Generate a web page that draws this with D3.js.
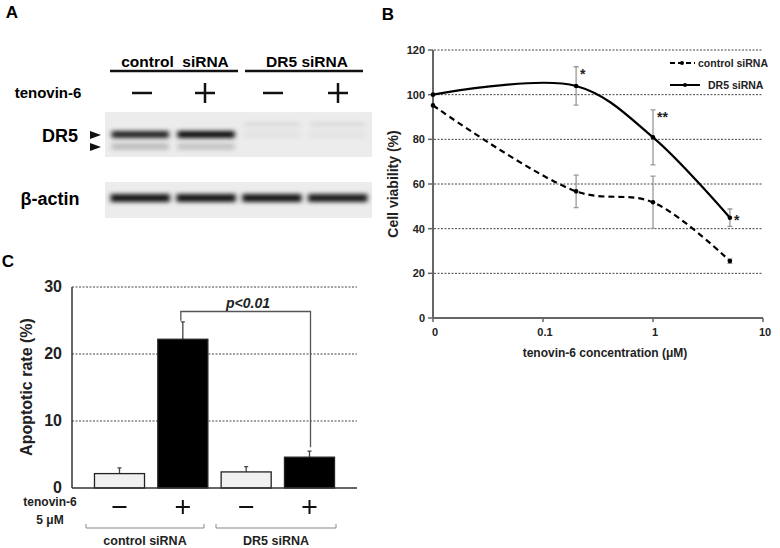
<!DOCTYPE html>
<html>
<head>
<meta charset="utf-8">
<script src="https://cdn.jsdelivr.net/npm/d3@7"></script>
<style>
  body { margin: 0; background: #fff; }
  svg { font-family: "Liberation Sans", Arial, sans-serif; font-weight: bold; }
</style>
</head>
<body>
<div id="fig"></div>
<script>
// ---- panel A (blot) ----
const laneGroups = ["control  siRNA", "DR5 siRNA"];
const laneTreat = ["−", "+", "−", "+"];
const dr5Upper = [0.85, 0.95, 0.04, 0.035];   // band darkness
const dr5Lower = [0.35, 0.3, 0.0, 0.0];
const dr5Faint = [0.0, 0.0, 0.07, 0.07];
const actin = [0.9, 0.9, 0.9, 0.88];

// ---- panel B (viability) ----
const conc = [0, 0.2, 1, 5];
const concTicks = [0.01, 0.1, 1, 10];
const concTickLabels = ["0", "0.1", "1", "10"];
const ctrlVia = [95.2, 56.7, 51.8, 25.5];
const ctrlErr = [0, 7.3, 11.7, 1];
const dr5Via = [100, 103.9, 80.9, 44.9];
const dr5Err = [0, 8.6, 12.3, 3.9];
const dr5Stars = ["", "*", "**", "*"];
const viaTicks = [0, 20, 40, 60, 80, 100, 120];

// ---- panel C (apoptosis) ----
const groupsC = ["ctl-", "ctl+", "dr5-", "dr5+"];
const apopRate = [2.15, 22.2, 2.4, 4.6];
const apopErr = [0.85, 2.6, 0.8, 0.9];
const apopTicks = [0, 10, 20, 30];

const svg = d3.select("#fig").append("svg")
  .attr("width", 780).attr("height", 548);

// panel letters
[["A", 12, 18], ["B", 388, 20], ["C", 8, 267]].forEach(d => {
  svg.append("text").attr("x", d[1]).attr("y", d[2]).attr("text-anchor", "middle")
    .attr("font-size", 17).text(d[0]);
});

// ================= A =================
const laneX = d3.scaleBand().domain(d3.range(4)).range([106, 372]).padding(0.04);

const defs = svg.append("defs");
defs.append("filter").attr("id", "blur").attr("x", "-20%").attr("y", "-150%")
  .attr("width", "140%").attr("height", "400%")
  .append("feGaussianBlur").attr("stdDeviation", "2.5 2");

const gA = svg.append("g");
// group headers
gA.append("text").attr("x", 175).attr("y", 67).attr("text-anchor", "middle")
  .attr("font-size", 15.5).attr("xml:space", "preserve").text(laneGroups[0]);
gA.append("line").attr("x1", 110).attr("x2", 238).attr("y1", 71).attr("y2", 71)
  .attr("stroke", "#111").attr("stroke-width", 2.5);
gA.append("text").attr("x", 307).attr("y", 67).attr("text-anchor", "middle")
  .attr("font-size", 15.5).text(laneGroups[1]);
gA.append("line").attr("x1", 245).attr("x2", 363).attr("y1", 71).attr("y2", 71)
  .attr("stroke", "#111").attr("stroke-width", 2.5);
gA.append("text").attr("x", 48).attr("y", 98).attr("text-anchor", "middle")
  .attr("font-size", 15).text("tenovin-6");
const signX = [142, 205, 273, 338];
laneTreat.forEach((s, i) => {
  gA.append("line").attr("x1", signX[i] - 10).attr("x2", signX[i] + 10)
    .attr("y1", 93).attr("y2", 93).attr("stroke", "#111").attr("stroke-width", 2.5);
  if (s === "+") gA.append("line").attr("x1", signX[i]).attr("x2", signX[i])
    .attr("y1", 83).attr("y2", 103).attr("stroke", "#111").attr("stroke-width", 2.5);
});

// DR5 blot
gA.append("rect").attr("x", 105).attr("y", 112).attr("width", 267).attr("height", 45)
  .attr("fill", "#ececec");
const bandG = gA.append("g").attr("filter", "url(#blur)");
dr5Upper.forEach((v, i) => {
  bandG.append("rect").attr("x", laneX(i) + 3).attr("y", 131).attr("width", laneX.bandwidth() - 6)
    .attr("height", 7).attr("fill", "#000").attr("opacity", v);
});
dr5Lower.forEach((v, i) => {
  bandG.append("rect").attr("x", laneX(i) + 3).attr("y", 143).attr("width", laneX.bandwidth() - 6)
    .attr("height", 7).attr("fill", "#000").attr("opacity", v * 0.55);
});
dr5Faint.forEach((v, i) => {
  bandG.append("rect").attr("x", laneX(i) + 4).attr("y", 122).attr("width", laneX.bandwidth() - 8)
    .attr("height", 5).attr("fill", "#000").attr("opacity", v);
});
gA.append("text").attr("x", 60).attr("y", 142).attr("text-anchor", "middle")
  .attr("font-size", 18).text("DR5");
[135, 147].forEach(y => {
  gA.append("path").attr("d", `M90,${y - 4}L101,${y}L90,${y + 4}Z`).attr("fill", "#111");
});

// actin blot
gA.append("rect").attr("x", 105).attr("y", 182).attr("width", 267).attr("height", 36)
  .attr("fill", "#ececec");
const actG = gA.append("g").attr("filter", "url(#blur)");
actin.forEach((v, i) => {
  actG.append("rect").attr("x", laneX(i) + 2).attr("y", 194).attr("width", laneX.bandwidth() - 4)
    .attr("height", 8).attr("fill", "#000").attr("opacity", v);
});
gA.append("text").attr("x", 50).attr("y", 205).attr("text-anchor", "middle")
  .attr("font-size", 18).text("β-actin");

// ================= B =================
const xB = d3.scaleLog().domain([0.01, 10]).range([433, 763]);
const yB = d3.scaleLinear().domain([0, 120]).range([318, 50]);
const px = c => xB(Math.max(c, 0.01));
const gB = svg.append("g");

gB.selectAll(".gridB").data(viaTicks.filter(t => t > 0)).enter().append("line")
  .attr("x1", 434).attr("x2", 763).attr("y1", d => yB(d)).attr("y2", d => yB(d))
  .attr("stroke", "#444").attr("stroke-width", 1).attr("stroke-dasharray", "2,1.5");

// y axis
gB.append("line").attr("x1", 433).attr("x2", 433).attr("y1", yB(120)).attr("y2", yB(0))
  .attr("stroke", "#666").attr("stroke-width", 2);
gB.selectAll(".ytB").data(viaTicks).enter().append("line")
  .attr("x1", 428).attr("x2", 433).attr("y1", d => yB(d)).attr("y2", d => yB(d))
  .attr("stroke", "#666").attr("stroke-width", 1.5);
gB.selectAll(".ylB").data(viaTicks).enter().append("text")
  .attr("x", 425).attr("y", d => yB(d) + 4).attr("text-anchor", "end")
  .attr("font-size", 11).attr("fill", "#222").text(d => d);
// x axis
gB.append("line").attr("x1", 433).attr("x2", 763).attr("y1", 318).attr("y2", 318)
  .attr("stroke", "#666").attr("stroke-width", 2);
gB.selectAll(".xtB").data(concTicks).enter().append("line")
  .attr("x1", d => xB(d)).attr("x2", d => xB(d)).attr("y1", 318).attr("y2", 322)
  .attr("stroke", "#666").attr("stroke-width", 1.5);
gB.selectAll(".xlB").data(concTicks).enter().append("text")
  .attr("x", d => xB(d) + 2).attr("y", 336).attr("text-anchor", "middle")
  .attr("font-size", 11).attr("fill", "#222").text((d, i) => concTickLabels[i]);
gB.append("text").attr("x", 605).attr("y", 357).attr("text-anchor", "middle")
  .attr("font-size", 12).attr("fill", "#222").text("tenovin-6 concentration  (μM)");
gB.append("text").attr("transform", "translate(398,184) rotate(-90)")
  .attr("text-anchor", "middle").attr("font-size", 14).attr("fill", "#222")
  .text("Cell viability (%)");

// error bars
function errBars(vals, errs) {
  vals.forEach((v, i) => {
    if (!errs[i]) return;
    const x = px(conc[i]);
    gB.append("path")
      .attr("d", `M${x},${yB(v - errs[i])}V${yB(v + errs[i])}M${x - 2.5},${yB(v - errs[i])}h5M${x - 2.5},${yB(v + errs[i])}h5`)
      .attr("stroke", "#999").attr("stroke-width", 1.3).attr("fill", "none");
  });
}
errBars(ctrlVia, ctrlErr);
errBars(dr5Via, dr5Err);

const lineB = d3.line().curve(d3.curveCatmullRom.alpha(0.5))
  .x(d => px(d[0])).y(d => yB(d[1]));
gB.append("path").datum(conc.map((c, i) => [c, ctrlVia[i]])).attr("d", lineB)
  .attr("fill", "none").attr("stroke", "#000").attr("stroke-width", 2.2)
  .attr("stroke-dasharray", "6,4");
gB.append("path").datum(conc.map((c, i) => [c, dr5Via[i]])).attr("d", lineB)
  .attr("fill", "none").attr("stroke", "#000").attr("stroke-width", 2.2);
[ctrlVia, dr5Via].forEach(vals => {
  gB.selectAll(null).data(vals).enter().append("circle")
    .attr("cx", (d, i) => px(conc[i])).attr("cy", d => yB(d)).attr("r", 2.3).attr("fill", "#000");
});
dr5Stars.forEach((s, i) => {
  if (!s) return;
  const v = dr5Via[i];
  const y = i === 3 ? yB(v) + 7 : yB(v + dr5Err[i]) + 12;
  gB.append("text").attr("x", px(conc[i]) + 4).attr("y", y)
    .attr("font-size", 14).attr("fill", "#222").text(s);
});
// legend
gB.append("line").attr("x1", 670).attr("x2", 695).attr("y1", 63).attr("y2", 63)
  .attr("stroke", "#000").attr("stroke-width", 2).attr("stroke-dasharray", "5,3");
gB.append("circle").attr("cx", 682).attr("cy", 63).attr("r", 2).attr("fill", "#000");
gB.append("text").attr("x", 698).attr("y", 67).attr("font-size", 10.5).attr("fill", "#222")
  .text("control siRNA");
gB.append("line").attr("x1", 670).attr("x2", 700).attr("y1", 85).attr("y2", 85)
  .attr("stroke", "#000").attr("stroke-width", 2);
gB.append("circle").attr("cx", 685).attr("cy", 85).attr("r", 2).attr("fill", "#000");
gB.append("text").attr("x", 708).attr("y", 89).attr("font-size", 10.5).attr("fill", "#222")
  .text("DR5 siRNA");

// ================= C =================
const xC = d3.scaleBand().domain(groupsC).range([72, 357]).paddingInner(0.21).paddingOuter(0.355);
const yC = d3.scaleLinear().domain([0, 30]).range([488, 287]);
const gC = svg.append("g");
gC.selectAll(".gridC").data(apopTicks.filter(t => t > 0)).enter().append("line")
  .attr("x1", 72).attr("x2", 357).attr("y1", d => yC(d)).attr("y2", d => yC(d))
  .attr("stroke", "#444").attr("stroke-width", 1).attr("stroke-dasharray", "2,1.5");
gC.append("line").attr("x1", 72).attr("x2", 72).attr("y1", yC(30)).attr("y2", yC(0))
  .attr("stroke", "#333").attr("stroke-width", 1.5);
gC.selectAll(".ylC").data(apopTicks).enter().append("text")
  .attr("x", 62).attr("y", d => yC(d) + 5).attr("text-anchor", "end")
  .attr("font-size", 16).attr("fill", "#222").text(d => d);
gC.append("text").attr("transform", "translate(32,387) rotate(-90)")
  .attr("text-anchor", "middle").attr("font-size", 16).attr("fill", "#222")
  .text("Apoptotic rate (%)");

// error bars (upper only)
gC.selectAll(".errC").data(apopRate).enter().append("path")
  .attr("d", (d, i) => {
    const x = xC(groupsC[i]) + xC.bandwidth() / 2;
    return `M${x},${yC(d)}V${yC(d + apopErr[i])}M${x - 2},${yC(d + apopErr[i])}h4`;
  })
  .attr("stroke", "#444").attr("stroke-width", 1.3).attr("fill", "none");
gC.selectAll(".barC").data(apopRate).enter().append("rect")
  .attr("x", (d, i) => xC(groupsC[i])).attr("y", d => yC(d))
  .attr("width", xC.bandwidth()).attr("height", d => yC(0) - yC(d))
  .attr("fill", (d, i) => i % 2 ? "#000" : "#f0f0f0")
  .attr("stroke", "#222").attr("stroke-width", 1.3);
gC.append("line").attr("x1", 72).attr("x2", 357).attr("y1", yC(0)).attr("y2", yC(0))
  .attr("stroke", "#333").attr("stroke-width", 1.5);

// significance bracket
const bx1 = xC(groupsC[1]) + xC.bandwidth() / 2 - 2;
const bx2 = xC(groupsC[3]) + xC.bandwidth() / 2 + 1;
const bTop = 311.5;
gC.append("path")
  .attr("d", `M${bx1},${yC(apopRate[1] + apopErr[1]) - 1}V${bTop}H${bx2}V${yC(apopRate[3] + apopErr[3]) - 4}`)
  .attr("stroke", "#555").attr("stroke-width", 1.3).attr("fill", "none");
gC.append("text").attr("x", 248).attr("y", 308).attr("text-anchor", "middle")
  .attr("font-size", 14).attr("font-style", "italic").attr("fill", "#222").text("p<0.01");

// treatment row
gC.append("text").attr("x", 50).attr("y", 506).attr("text-anchor", "middle")
  .attr("font-size", 12).attr("fill", "#222").text("tenovin-6");
gC.append("text").attr("x", 50).attr("y", 524).attr("text-anchor", "middle")
  .attr("font-size", 12).attr("fill", "#222").text("5 μM");
laneTreat.forEach((s, i) => {
  const x = xC(groupsC[i]) + xC.bandwidth() / 2;
  gC.append("line").attr("x1", x - 7).attr("x2", x + 7).attr("y1", 507).attr("y2", 507)
    .attr("stroke", "#111").attr("stroke-width", 2);
  if (s === "+") gC.append("line").attr("x1", x).attr("x2", x).attr("y1", 500).attr("y2", 514)
    .attr("stroke", "#111").attr("stroke-width", 2);
});
[[86, 204, "control siRNA"], [216, 336, "DR5 siRNA"]].forEach(b => {
  gC.append("path").attr("d", `M${b[0]},524V528H${b[1]}V524`)
    .attr("stroke", "#888").attr("stroke-width", 1).attr("fill", "none");
  gC.append("text").attr("x", (b[0] + b[1]) / 2).attr("y", 545).attr("text-anchor", "middle")
    .attr("font-size", 12.5).attr("fill", "#222").text(b[2]);
});
</script>
</body>
</html>
